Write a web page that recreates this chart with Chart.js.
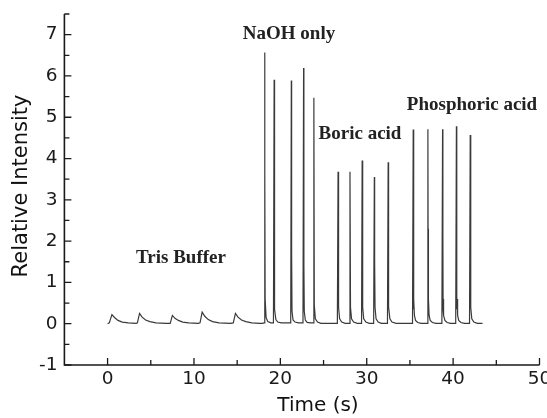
<!DOCTYPE html>
<html>
<head>
<meta charset="utf-8">
<script src="https://cdn.jsdelivr.net/npm/chart.js@4.4.1/dist/chart.umd.min.js"></script>
<style>
  html, body { margin: 0; padding: 0; background: #fff; }
</style>
</head>
<body>
<canvas id="traceChart" width="547" height="418"></canvas>
<script>
// trace, split by sample group
var trisTime  = [0, 0.2, 0.5, 0.8, 1.2, 1.7, 2.4, 3.3,
                 3.45, 3.7, 4.0, 4.4, 4.9, 5.6, 6.8,
                 7.25, 7.5, 7.8, 8.2, 8.7, 9.4, 10.5,
                 10.7, 10.95, 11.25, 11.65, 12.15, 12.9, 14.2,
                 14.55, 14.8, 15.1, 15.5, 16.0, 16.7, 17.6];
var trisValue = [0, 0.02, 0.22, 0.15, 0.08, 0.04, 0.02, 0.01,
                 0.02, 0.25, 0.16, 0.09, 0.05, 0.02, 0.01,
                 0.01, 0.20, 0.13, 0.08, 0.04, 0.02, 0.01,
                 0.02, 0.28, 0.18, 0.10, 0.05, 0.02, 0.01,
                 0.02, 0.25, 0.16, 0.09, 0.05, 0.02, 0.01];

var naohTime  = [17.9, 18.12, 18.18, 18.2, 18.21, 18.24, 18.35, 18.55, 18.9, 19.2,
                 19.28, 19.31, 19.32, 19.36, 19.48, 19.7, 20.1, 21.2,
                 21.27, 21.3, 21.31, 21.35, 21.47, 21.7, 22.1, 22.62,
                 22.69, 22.72, 22.73, 22.77, 22.89, 23.1, 23.5, 23.82,
                 23.88, 23.93, 24.05, 24.3, 24.7];
var naohValue = [0.01, 0.02, 6.57, 1.8, 3.7, 0.6, 0.15, 0.05, 0.02, 0.02,
                 5.91, 1.3, 2.1, 0.35, 0.10, 0.04, 0.02, 0.02,
                 5.89, 0.9, 1.7, 0.30, 0.09, 0.04, 0.02, 0.02,
                 6.19, 0.7, 1.4, 0.30, 0.09, 0.03, 0.02, 0.02,
                 5.47, 0.45, 0.12, 0.04, 0.01];

var boricTime  = [26.6, 26.68, 26.74, 26.86, 27.1, 27.5, 27.98,
                  28.06, 28.12, 28.24, 28.48, 28.9, 29.4,
                  29.47, 29.53, 29.65, 29.9, 30.3, 30.8,
                  30.88, 30.91, 30.92, 30.96, 31.08, 31.32, 31.7, 32.4,
                  32.48, 32.51, 32.52, 32.56, 32.68, 32.92, 33.4, 35.3];
var boricValue = [0.01, 3.68, 0.40, 0.12, 0.04, 0.01, 0.01,
                  3.68, 0.40, 0.12, 0.04, 0.01, 0.01,
                  3.95, 0.40, 0.12, 0.04, 0.01, 0.01,
                  3.55, 0.9, 1.5, 0.40, 0.12, 0.04, 0.01, 0.01,
                  3.91, 1.3, 2.3, 0.40, 0.12, 0.04, 0.01, 0.01];

var phosTime  = [35.38, 35.41, 35.42, 35.44, 35.47, 35.52, 35.65, 35.9, 36.3, 37.0,
                 37.08, 37.11, 37.12, 37.14, 37.17, 37.22, 37.35, 37.6, 38.0, 38.7,
                 38.78, 38.81, 38.82, 38.84, 38.87, 38.92, 39.05, 39.3, 39.7, 40.3,
                 40.38, 40.41, 40.42, 40.44, 40.47, 40.52, 40.65, 40.9, 41.3, 41.9,
                 41.98, 42.04, 42.16, 42.4, 42.8, 43.4];
var phosValue = [4.70, 1.5, 2.3, 0.35, 0.6, 0.2, 0.08, 0.03, 0.01, 0.01,
                 4.71, 1.5, 2.3, 0.35, 0.6, 0.2, 0.08, 0.03, 0.01, 0.01,
                 4.71, 1.4, 2.2, 0.35, 0.6, 0.2, 0.08, 0.03, 0.01, 0.01,
                 4.78, 1.6, 2.4, 0.35, 0.6, 0.2, 0.08, 0.03, 0.01, 0.01,
                 4.57, 0.40, 0.12, 0.04, 0.01, 0.01];

var xTicks = [0, 10, 20, 30, 40, 50];
var xMinorTicks = [5, 15, 25, 35, 45];
var yTicks = [-1, 0, 1, 2, 3, 4, 5, 6, 7];
var yMinorTicks = [-0.5, 0.5, 1.5, 2.5, 3.5, 4.5, 5.5, 6.5, 7.5];

var groupNames = ['Tris Buffer', 'NaOH only', 'Boric acid', 'Phosphoric acid'];

function toPoints(t, v) {
   var pts = [];
   for (var i = 0; i < t.length; i++) pts.push({x: t[i], y: v[i]});
   return pts;
}

var tracePoints = [].concat(
   toPoints(trisTime, trisValue),
   toPoints(naohTime, naohValue),
   toPoints(boricTime, boricValue),
   toPoints(phosTime, phosValue)
);

// where the group names sit (pixel centres)
var groupLabelPos = [[181, 257], [289, 33], [360, 133], [472, 104]];

var axisPlugin = {
   id: 'axisPlugin',
   afterDraw: function(chart) {
      var ctx = chart.ctx;
      var xs = chart.scales.x, ys = chart.scales.y;
      var a = chart.chartArea;
      ctx.save();
      ctx.strokeStyle = '#1a1a1a';
      ctx.lineWidth = 1.6;
      ctx.beginPath();
      ctx.moveTo(a.left, a.top);
      ctx.lineTo(a.left, a.bottom);
      ctx.lineTo(a.right, a.bottom);
      ctx.stroke();

      ctx.lineWidth = 1.3;
      ctx.beginPath();
      xTicks.forEach(function(v) {
         var px = xs.getPixelForValue(v);
         ctx.moveTo(px, a.bottom); ctx.lineTo(px, a.bottom - 7);
      });
      xMinorTicks.forEach(function(v) {
         var px = xs.getPixelForValue(v);
         ctx.moveTo(px, a.bottom); ctx.lineTo(px, a.bottom - 5);
      });
      yTicks.forEach(function(v) {
         var py = ys.getPixelForValue(v);
         ctx.moveTo(a.left, py); ctx.lineTo(a.left + 7, py);
      });
      yMinorTicks.forEach(function(v) {
         var py = ys.getPixelForValue(v);
         ctx.moveTo(a.left, py); ctx.lineTo(a.left + 5, py);
      });
      ctx.stroke();

      // axis titles
      ctx.fillStyle = '#111';
      ctx.font = '20px "DejaVu Sans"';
      ctx.textAlign = 'center';
      ctx.textBaseline = 'middle';
      ctx.fillText('Time (s)', 318, 406);
      ctx.save();
      ctx.translate(22, 186);
      ctx.rotate(-Math.PI / 2);
      ctx.font = '21px "DejaVu Sans"';
      ctx.fillText('Relative Intensity', 0, 0);
      ctx.restore();

      // group names
      ctx.font = 'bold 19px "Liberation Serif"';
      ctx.fillStyle = '#222';
      groupNames.forEach(function(name, i) {
         ctx.fillText(name, groupLabelPos[i][0], groupLabelPos[i][1] + 1);
      });
      ctx.restore();
   }
};

var traceChart = new Chart(document.getElementById('traceChart').getContext('2d'), {
   type: 'line',
   data: {
      datasets: [{
         data: tracePoints,
         borderColor: '#3a3a3a',
         borderWidth: 1.2,
         pointRadius: 0,
         tension: 0,
         fill: false
      }]
   },
   options: {
      responsive: false,
      animation: false,
      layout: { padding: { top: 14, right: 7.5, left: 0, bottom: 0 } },
      plugins: { legend: { display: false }, tooltip: { enabled: false } },
      scales: {
         x: {
            type: 'linear',
            min: -5, max: 50,
            grid: { display: false, drawTicks: false },
            border: { display: false },
            ticks: { padding: 3, color: '#1a1a1a', font: { family: 'DejaVu Sans', size: 18.5 } },
            afterBuildTicks: function(s) { s.ticks = xTicks.map(function(v) { return {value: v}; }); },
            afterFit: function(s) { s.height = 53; s.paddingLeft = 0; s.paddingRight = 0; }
         },
         y: {
            type: 'linear',
            min: -1, max: 7.5,
            grid: { display: false, drawTicks: false },
            border: { display: false },
            ticks: { padding: 7, color: '#1a1a1a', font: { family: 'DejaVu Sans', size: 18.5 } },
            afterBuildTicks: function(s) { s.ticks = yTicks.map(function(v) { return {value: v}; }); },
            afterFit: function(s) { s.width = 64.4; s.paddingTop = 0; s.paddingBottom = 0; }
         }
      }
   },
   plugins: [axisPlugin]
});
</script>
</body>
</html>
